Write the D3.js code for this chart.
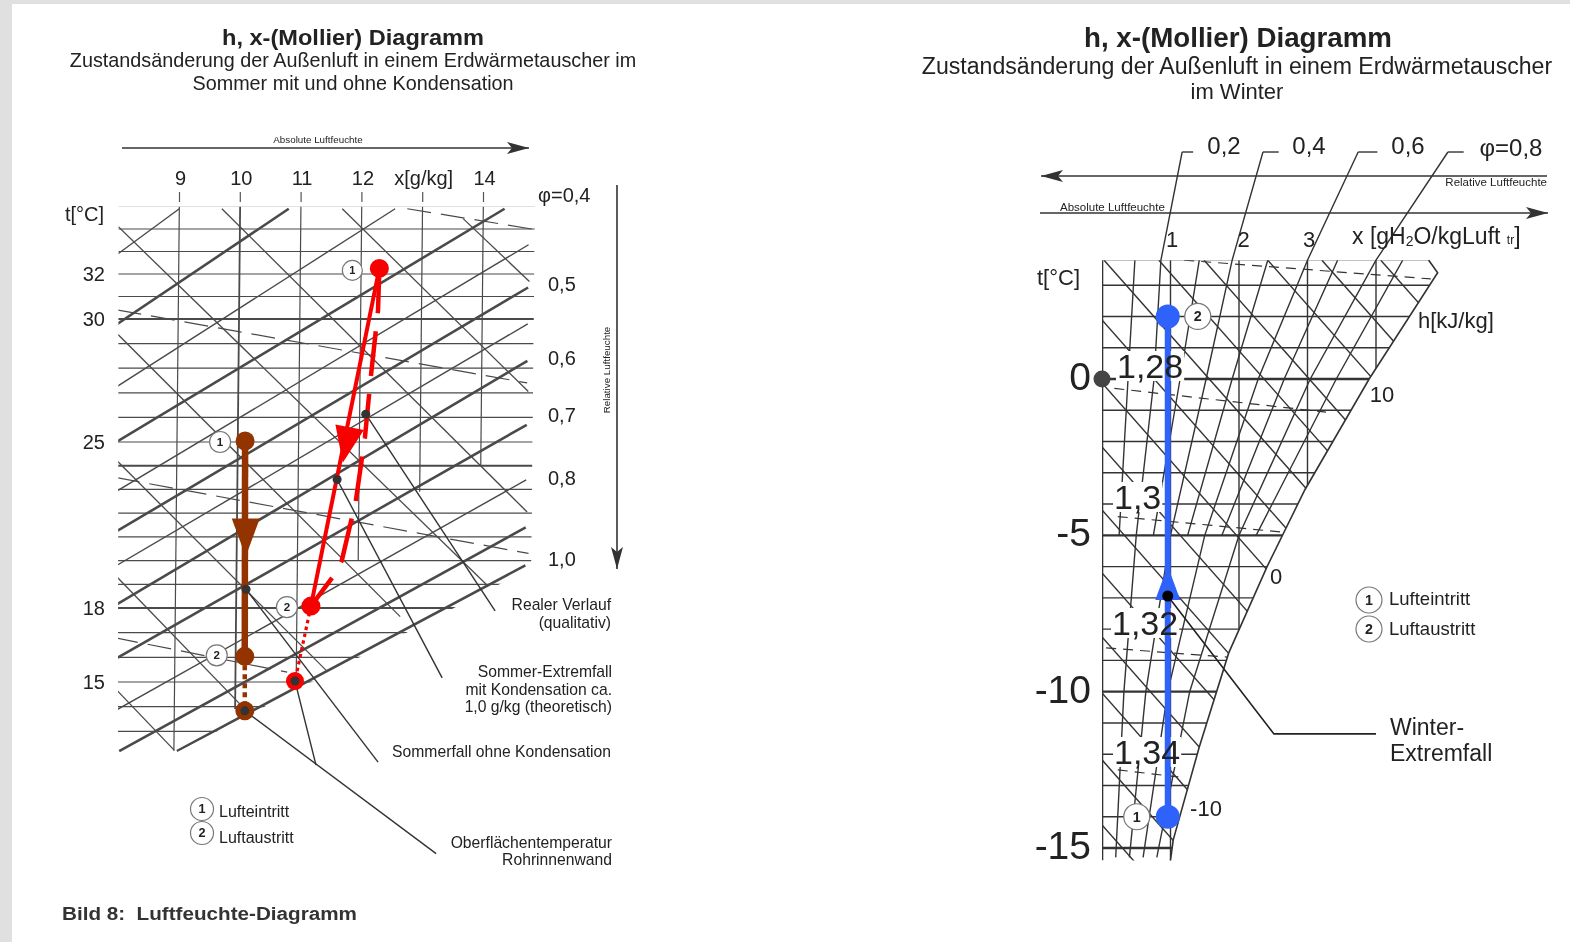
<!DOCTYPE html>
<html lang="de">
	<head>
		<meta charset="utf-8">
		<title>h,x-Diagramm</title>
		<script src="https://cdn.jsdelivr.net/npm/d3@7/dist/d3.min.js" type="text/javascript"></script>
		<style>
			html, body { margin: 0; padding: 0; background: #fff; }
			svg { display: block; filter: blur(0.55px); }
			text { font-family: "Liberation Sans", Arial, sans-serif; fill: #222; }
		</style>
	</head>
	<body>
		<script type="text/javascript">
			// ---- left diagram (Sommer), every point is [x g/kg, t degC]
			var sommerTemps = [35,34,33,32,31,30,29,28,27,26,25,24,23,22,21,20,19,18,17,16,15,14,13];
			var sommerTempsStrong = [30,24,18];
			var sommerX = [9,10,11,12,13,14];
			var sommerXEnd = [12.2,13.9,15.2,20,22.9,24];
			var sommerTempTicks = [32,30,25,18,15];
			var sommerXTicks = [9,10,11,12,13,14];
			var sommerPhiStrong = [
				[[8,29.8],[10.8,34.9]],
				[[8,25],[14.35,34.9]],
				[[8,21.2],[14.75,31.4]],
				[[8,18.1],[14.75,28.3]],
				[[8,15.9],[14.75,25.7]],
				[[8.1,12.2],[14.75,21.4]],
				[[9.05,12.2],[14.75,19.8]]
			];
			var sommerPhiThin = [
				[[8,32.9],[9,34.9]],
				[[8,27.25],[12.55,34.9]],
				[[8,22.9],[14.75,33.3]],
				[[8,19.75],[14.75,29.8]],
				[[8,13.8],[14.75,23.4]]
			];
			var sommerEnthalpy = [
				[[13.67,34.46],[14.77,31.67]],
				[[11.68,34.9],[14.77,27.05]],
				[[9.7,34.9],[14.77,22.05]],
				[[8,34.1],[14.13,18.95]],
				[[8,29.4],[12.7,17.65]],
				[[8,24.25],[11.5,15.45]],
				[[8,19.4],[10.2,13.8]],
				[[8,14.8],[9,12.25]]
			];
			var sommerDensity = [
				[[12.75,34.9],[14.8,34]],
				[[8,30.4],[14.75,27.4]],
				[[8,23.5],[14.8,20.3]],
				[[8,16.8],[10.85,15.4]]
			];
			var sommerPhiLabels = ["φ=0,4","0,5","0,6","0,7","0,8","1,0"];
			var sommerPhiLabelY = [195,284,358,415,478,559];

			var redEin = [12.30,32.25];
			var redAus = [11.23,18.08];
			var redExtrem = [10.98,15.04];
			var redReal = [[12.30,32.25],[12.285,30.38],[12.18,27.71],[12.09,25.17],[11.95,22.5],[11.73,20],[11.59,19.33],[11.23,18.08]];
			var redArrowTip = [11.73,24.13];
			var brownEin = [10.12,25.04];
			var brownAus = [10.15,16.04];
			var brownExtrem = [10.16,13.83];
			var brownArrowTip = [10.15,20.17];
			var sommerDots = [[12.10,26.13],[11.64,23.42],[10.16,18.79],[10.98,15.04],[10.16,13.83]];
			var sommerLeaders = [
				[[12.10,26.13],[14.26,17.88]],
				[[11.64,23.42],[13.40,15.17]],
				[[10.16,18.79],[12.36,11.75]],
				[[10.98,15.04],[11.34,11.63]],
				[[10.16,13.83],[13.33,8.04]]
			];
			var sommerClip = [[8,35],[14.85,35],[14.85,19.7],[9.05,12.15],[8.08,12.15]];

			// ---- right diagram (Winter)
			var winterTemps = [3.8,3,2,1,0,-1,-2,-3,-4,-5,-6,-7,-8,-9,-10,-11,-12,-13,-14,-15];
			var winterTempsStrong = [0,-5,-10,-15];
			var winterX = [0,1,2,3,4];
			var winterTempTicks = [0,-5,-10,-15];
			var winterXTicks = [1,2,3];
			var winterSat = [[4.77,3.8],[4.9,3.4],[3.9,0],[2.96,-3.55],[2.41,-6],[1.85,-8.76],[1.42,-11.77],[1.04,-14.74],[1.0,-15.4]];
			var winterClip = [[0,3.8]].concat(winterSat).concat([[0,-15.4]]);
			var winterPhiMain = [
				[[1.17,7.26],[0.86,3.8],[0.76,0],[0.5,-5],[0.32,-10],[0.2,-15.3]],
				[[2.35,7.26],[1.9,3.8],[1.52,0],[1.0,-5],[0.64,-10],[0.4,-15.3]],
				[[3.74,7.26],[3.0,3.8],[2.28,0],[1.5,-5],[0.96,-10],[0.6,-15.3]],
				[[5.05,7.26],[4.0,3.8],[3.04,0],[2.0,-5],[1.28,-10],[0.8,-15.3]]
			];
			var winterPhiOdd = [
				[[0.48,3.8],[0.38,0],[0.25,-5]],
				[[1.42,3.8],[1.14,0],[0.75,-5]],
				[[2.42,3.8],[1.9,0],[1.25,-5]],
				[[3.44,3.8],[2.66,0],[1.75,-5]],
				[[4.39,3.8],[3.42,0],[2.25,-5]]
			];
			var winterPhiTopEnd = [1.33,2.58,4.02,5.28];
			var winterPhiLabels = ["0,2","0,4","0,6","φ=0,8"];
			var winterPhiLabelX = [1224,1309,1408,1511];
			var winterEnthalpy = [
				[[0.03,3.8],[8.03,-16]],[[0.83,3.8],[8.83,-16]],[[1.49,3.8],[9.49,-16]],[[2.42,3.8],[10.42,-16]],
				[[3.21,3.8],[11.21,-16]],[[4.07,3.8],[12.07,-16]],[[4.77,3.8],[12.77,-16]],
				[[0,1.89],[5,-10.51]],[[0,-0.13],[5,-12.53]],[[0,-2.17],[5,-14.57]],[[0,-4.19],[5,-16.59]],
				[[0,-6.2],[5,-18.6]],[[0,-8.25],[5,-20.65]],[[0,-10.04],[5,-22.44]],[[0,-12.18],[5,-24.58]],[[0,-14.26],[5,-26.66]]
			];
			var winterDensity = [
				[[1.2,3.8],[4.8,3.2]],
				[[0.18,-0.3],[3.27,-1.06]],
				[[0.23,-4.4],[2.66,-4.9]],
				[[0.06,-8.6],[1.85,-8.9]],
				[[0.23,-12.5],[1.2,-12.75]]
			];
			var winterRho = ["1,28","1,3","1,32","1,34"];
			var winterRhoX = [1117,1114,1112,1114];
			var winterRhoY = [366,497,623,752];
			var blueEin = [0.96,-14];
			var blueAus = [0.96,2];
			var blueArrowTip = [0.96,-5.98];
			var blueDot = [0.96,-6.94];
			var greyDot = [0,0];
			var winterLeader = [[0.96,-6.94],[2.51,-11.35],[4.0,-11.35]];

			var svg = d3.select("body").append("svg").attr("width", 1570).attr("height", 942);
			svg.append("rect").attr("width", 1570).attr("height", 942).attr("fill", "#fff");
			svg.append("rect").attr("width", 1570).attr("height", 4).attr("fill", "#e0e0e0");
			svg.append("rect").attr("width", 12).attr("height", 942).attr("fill", "#e0e0e0");

			function label(str, x, y, size, anchor, weight) {
				return svg.append("text").attr("x", x).attr("y", y)
					.attr("font-size", size)
					.attr("text-anchor", anchor || "start")
					.attr("font-weight", weight || "normal")
					.attr("dominant-baseline", "central")
					.text(str);
			}
			function numCircle(cx, cy, r, str) {
				svg.append("circle").attr("cx", cx).attr("cy", cy).attr("r", r)
					.attr("fill", "#fff").attr("stroke", "#777").attr("stroke-width", 1.2);
				label(str, cx, cy, r * 1.1, "middle", "bold");
			}
			function arrowLine(x1, y1, x2, y2) {
				var a = Math.atan2(y2 - y1, x2 - x1);
				svg.append("line").attr("x1", x1).attr("y1", y1).attr("x2", x2).attr("y2", y2)
					.attr("stroke", "#333").attr("stroke-width", 1.6);
				svg.append("path")
					.attr("d", "M0,0L-22,-6L-17,0L-22,6Z")
					.attr("transform", "translate(" + x2 + "," + y2 + ") rotate(" + a * 180 / Math.PI + ")")
					.attr("fill", "#333");
			}

			// titles
			label("h, x-(Mollier) Diagramm", 353, 37, 22.5, "middle", "bold").attr("textLength", 262).attr("lengthAdjust", "spacingAndGlyphs");
			label("Zustandsänderung der Außenluft in einem Erdwärmetauscher im", 353, 60, 19.8, "middle");
			label("Sommer mit und ohne Kondensation", 353, 83, 19.8, "middle");
			label("h, x-(Mollier) Diagramm", 1238, 38, 27, "middle", "bold").attr("textLength", 308).attr("lengthAdjust", "spacingAndGlyphs");
			label("Zustandsänderung der Außenluft in einem Erdwärmetauscher", 1237, 66, 23.1, "middle");
			label("im Winter", 1237, 91, 22, "middle");
			label("Bild 8:  Luftfeuchte-Diagramm", 62, 914, 18, "start", "bold")
				.attr("textLength", 295).attr("lengthAdjust", "spacingAndGlyphs")
				.style("white-space", "pre").style("fill", "#333");

			// ---- left diagram
			var xL = d3.scaleLinear().domain([9, 14]).range([179, 483]);
			var tL = d3.scaleLinear().domain([32, 30, 25, 18, 15]).range([274, 319, 442, 608, 682]);
			var skewL = d3.scaleLinear().domain([240, 740]).range([0, -5]);
			var lineL = d3.line()
				.x(function (d) { return xL(d[0]) + skewL(tL(d[1])); })
				.y(function (d) { return tL(d[1]); });

			svg.append("clipPath").attr("id", "clipL").append("path").attr("d", lineL(sommerClip) + "Z");
			var gridL = svg.append("g").attr("clip-path", "url(#clipL)").attr("fill", "none").attr("stroke", "#4a4a4a");

			gridL.selectAll(".temp").data(sommerTemps).enter().append("path").attr("class", "temp")
				.attr("d", function (d) { return lineL([[8, d], [14.85, d]]); })
				.attr("stroke-width", function (d) { return sommerTempsStrong.indexOf(d) >= 0 ? 2 : 1.2; })
				.attr("stroke-opacity", function (d) { return d == 35 ? 0.35 : 1; });
			gridL.selectAll(".xl").data(sommerX).enter().append("path").attr("class", "xl")
				.attr("d", function (d, i) { return lineL([[d, 35], [d, sommerXEnd[i]]]); })
				.attr("stroke-width", function (d) { return d == 10 ? 1.8 : 1.2; });
			gridL.selectAll(".thin").data(sommerPhiThin).enter().append("path").attr("class", "thin")
				.attr("d", lineL).attr("stroke-width", 1.4);
			gridL.selectAll(".strong").data(sommerPhiStrong).enter().append("path").attr("class", "strong")
				.attr("d", lineL).attr("stroke-width", 2.6);
			gridL.selectAll(".ent").data(sommerEnthalpy).enter().append("path").attr("class", "ent")
				.attr("d", lineL).attr("stroke-width", 1.3);
			gridL.selectAll(".den").data(sommerDensity).enter().append("path").attr("class", "den")
				.attr("d", lineL).attr("stroke-width", 1.2).attr("stroke-dasharray", "24 10");

			var axisTopL = svg.append("g").attr("transform", "translate(0,202)")
				.call(d3.axisTop(xL).tickValues(sommerXTicks).tickSize(10).tickPadding(7)
					.tickFormat(function (d) { return d == 13 ? "x[g/kg]" : d; }));
			axisTopL.select(".domain").remove();
			axisTopL.selectAll("text").attr("font-size", 20).attr("dx", 1);
			axisTopL.selectAll("line").attr("stroke", "#555").attr("stroke-width", 1.2);

			var tickL = svg.append("g").attr("transform", "translate(105,0)")
				.call(d3.axisLeft(tL).tickValues(sommerTempTicks).tickSize(0).tickPadding(0)
					.tickFormat(function (d) { return d; }));
			tickL.select(".domain").remove();
			tickL.selectAll("text").attr("font-size", 20);

			label("t[°C]", 65, 214, 20);
			sommerPhiLabels.forEach(function (s, i) {
				label(s, i == 0 ? 538 : 548, sommerPhiLabelY[i], 20);
			});
			arrowLine(122, 148, 529, 148);
			label("Absolute Luftfeuchte", 318, 139, 9.8, "middle");
			arrowLine(617, 185, 617, 569);
			label("Relative Luftfeuchte", 0, 0, 9.8, "middle").attr("transform", "translate(606,370) rotate(-90)");

			// leader lines
			svg.selectAll(".leaderL").data(sommerLeaders).enter().append("path").attr("class", "leaderL")
				.attr("d", lineL).attr("fill", "none").attr("stroke", "#333").attr("stroke-width", 1.4);

			// states
			function drawState(from, to, color, width, dash) {
				svg.append("path").attr("d", lineL([from, to])).attr("fill", "none")
					.attr("stroke", color).attr("stroke-width", width).attr("stroke-dasharray", dash || null);
			}
			function tip(scaleLine, p, w, h, angle, color) {
				var c = scaleLine(p);
				svg.append("path")
					.attr("d", "M0,0L" + (-w / 2) + "," + (-h) + "L" + (w / 2) + "," + (-h) + "Z")
					.attr("transform", "translate(" + c[0] + "," + c[1] + ") rotate(" + angle + ")")
					.attr("fill", color);
			}
			function ptL(p) { return [xL(p[0]) + skewL(tL(p[1])), tL(p[1])]; }

			var red = "#f60000", brown = "#933300";
			drawState(redAus, redExtrem, red, 3.2, "3.5 3.5");
			drawState(brownAus, brownExtrem, brown, 4.5, "5 4");
			drawState(redEin, redAus, red, 4);
			svg.append("path").attr("d", lineL(redReal)).attr("fill", "none")
				.attr("stroke", red).attr("stroke-width", 4.5).attr("stroke-dasharray", "45 18");
			drawState(brownEin, brownAus, brown, 6.5);
			tip(ptL, redArrowTip, 29, 36, 11, red);
			tip(ptL, brownArrowTip, 28, 38, 0, brown);

			svg.selectAll(".stateL").data([[redEin, red, 9.5], [redAus, red, 9.5], [redExtrem, red, 9], [brownEin, brown, 9.5], [brownAus, brown, 9.5], [brownExtrem, brown, 9.5]])
				.enter().append("circle").attr("class", "stateL")
				.attr("cx", function (d) { return ptL(d[0])[0]; })
				.attr("cy", function (d) { return ptL(d[0])[1]; })
				.attr("r", function (d) { return d[2]; })
				.attr("fill", function (d) { return d[1]; });
			svg.selectAll(".dotL").data(sommerDots).enter().append("circle").attr("class", "dotL")
				.attr("cx", function (d) { return ptL(d)[0]; })
				.attr("cy", function (d) { return ptL(d)[1]; })
				.attr("r", 4.5).attr("fill", "#333");

			numCircle(ptL(redEin)[0] - 27, ptL(redEin)[1] + 2, 10, "1");
			numCircle(ptL(brownEin)[0] - 25, ptL(brownEin)[1] + 1, 10.5, "1");
			numCircle(ptL(redAus)[0] - 24, ptL(redAus)[1] + 1, 10.5, "2");
			numCircle(ptL(brownAus)[0] - 28, ptL(brownAus)[1] - 1, 10.5, "2");

			numCircle(202, 809, 11.5, "1");
			numCircle(202, 833, 11.5, "2");
			label("Lufteintritt", 219, 811, 16);
			label("Luftaustritt", 219, 837, 16);

			label("Realer Verlauf", 611, 604, 15.7, "end");
			label("(qualitativ)", 611, 622, 15.7, "end");
			label("Sommer-Extremfall", 612, 671, 15.7, "end");
			label("mit Kondensation ca.", 612, 689, 15.7, "end");
			label("1,0 g/kg (theoretisch)", 612, 706, 15.7, "end");
			label("Sommerfall ohne Kondensation", 611, 751, 15.7, "end");
			label("Oberflächentemperatur", 612, 842, 15.7, "end");
			label("Rohrinnenwand", 612, 859, 15.7, "end");

			// ---- right diagram
			var xR = d3.scaleLinear().domain([0, 4]).range([1102, 1376]);
			var tR = d3.scaleLinear().domain([0, -15]).range([379, 848]);
			var lineR = d3.line().x(function (d) { return xR(d[0]); }).y(function (d) { return tR(d[1]); });
			function ptR(p) { return [xR(p[0]), tR(p[1])]; }

			svg.append("clipPath").attr("id", "clipR").append("path").attr("d", lineR(winterClip) + "Z");
			var gridR = svg.append("g").attr("clip-path", "url(#clipR)").attr("fill", "none").attr("stroke", "#333");

			gridR.selectAll(".temp").data(winterTemps).enter().append("path").attr("class", "temp")
				.attr("d", function (d) { return lineR([[0, d], [5, d]]); })
				.attr("stroke-width", function (d) { return winterTempsStrong.indexOf(d) >= 0 ? 2.4 : 1.4; })
				.attr("stroke-opacity", function (d) { return d == 3.8 ? 0.4 : 1; });
			gridR.selectAll(".xl").data(winterX).enter().append("path").attr("class", "xl")
				.attr("d", function (d) { return lineR([[d, 3.8], [d, -15.4]]); })
				.attr("stroke-width", function (d) { return d == 0 ? 2.6 : 1.4; });
			gridR.selectAll(".odd").data(winterPhiOdd).enter().append("path").attr("class", "odd")
				.attr("d", lineR).attr("stroke-width", 1.4);
			gridR.selectAll(".ent").data(winterEnthalpy).enter().append("path").attr("class", "ent")
				.attr("d", lineR).attr("stroke-width", 1.4);
			gridR.selectAll(".den").data(winterDensity).enter().append("path").attr("class", "den")
				.attr("d", lineR).attr("stroke-width", 1.2).attr("stroke-dasharray", "10 7");

			svg.append("path").attr("d", lineR(winterSat)).attr("fill", "none").attr("stroke", "#333").attr("stroke-width", 1.6);
			svg.selectAll(".phiR").data(winterPhiMain).enter().append("path").attr("class", "phiR")
				.attr("d", lineR).attr("fill", "none").attr("stroke", "#333").attr("stroke-width", 1.4);
			svg.selectAll(".phiTop").data(winterPhiMain).enter().append("path").attr("class", "phiTop")
				.attr("d", function (d, i) { return lineR([d[0], [winterPhiTopEnd[i], d[0][1]]]); })
				.attr("fill", "none").attr("stroke", "#333").attr("stroke-width", 1.4);

			winterPhiLabels.forEach(function (s, i) { label(s, winterPhiLabelX[i], i == 3 ? 147 : 145, 24, "middle"); });

			// density values sit on a white patch, the text goes over the blue line later
			var rhoTexts = winterRho.map(function (s, i) {
				var t = label(s, winterRhoX[i], winterRhoY[i], 34);
				var b = t.node().getBBox();
				svg.insert("rect", function () { return t.node(); })
					.attr("x", b.x - 1).attr("y", b.y + 4).attr("width", b.width + 2).attr("height", b.height - 8)
					.attr("fill", "#fff");
				return t;
			});

			var axisTopR = svg.append("g").attr("transform", "translate(0,247)")
				.call(d3.axisTop(xR).tickValues(winterXTicks).tickSize(0).tickPadding(0)
					.tickFormat(function (d) { return String(d); }));
			axisTopR.select(".domain").remove();
			axisTopR.selectAll("text").attr("font-size", 22)
				.attr("dx", function (d) { return d == 2 ? 4 : 1; });

			var tickR = svg.append("g").attr("transform", "translate(1091,-2)")
				.call(d3.axisLeft(tR).tickValues(winterTempTicks).tickSize(0).tickPadding(0)
					.tickFormat(function (d) { return String(d); }));
			tickR.select(".domain").remove();
			tickR.selectAll("text").attr("font-size", 39);

			var xUnit = label("x [gH", 1352, 236, 23);
			xUnit.append("tspan").attr("font-size", 14).attr("dy", 5).text("2");
			xUnit.append("tspan").attr("dy", -5).text("O/kgLuft ");
			xUnit.append("tspan").attr("font-size", 12).attr("dy", 4).text("tr");
			xUnit.append("tspan").attr("dy", -4).text("]");

			label("t[°C]", 1037, 277, 22);
			label("h[kJ/kg]", 1418, 320, 22);
			label("10", 1382, 394, 22, "middle");
			label("0", 1276, 576, 22, "middle");
			label("-10", 1206, 808, 22, "middle");

			arrowLine(1547, 176, 1041, 176);
			arrowLine(1040, 213, 1548, 213);
			label("Relative Luftfeuchte", 1547, 182, 11.5, "end");
			label("Absolute Luftfeuchte", 1060, 207, 11.5);

			svg.append("path").attr("d", lineR(winterLeader)).attr("fill", "none").attr("stroke", "#222").attr("stroke-width", 1.6);
			label("Winter-", 1390, 727, 23);
			label("Extremfall", 1390, 753, 23);

			var blue = "#2e62fb";
			svg.append("path").attr("d", lineR([blueEin, blueAus])).attr("stroke", blue).attr("stroke-width", 6).attr("fill", "none");
			tip(ptR, blueArrowTip, 25, 34, 180, blue);
			svg.selectAll(".stateR").data([blueEin, blueAus]).enter().append("circle").attr("class", "stateR")
				.attr("cx", function (d) { return ptR(d)[0]; })
				.attr("cy", function (d) { return ptR(d)[1]; })
				.attr("r", 12).attr("fill", blue);
			svg.append("circle").attr("cx", ptR(blueDot)[0]).attr("cy", ptR(blueDot)[1]).attr("r", 5.5).attr("fill", "#000");
			svg.append("circle").attr("cx", ptR(greyDot)[0]).attr("cy", ptR(greyDot)[1]).attr("r", 8.5).attr("fill", "#444");
			rhoTexts.forEach(function (t) { t.raise(); });

			numCircle(ptR(blueAus)[0] + 30, ptR(blueAus)[1], 13, "2");
			numCircle(ptR(blueEin)[0] - 31, ptR(blueEin)[1], 13, "1");
			numCircle(1369, 600, 13, "1");
			numCircle(1369, 629, 13, "2");
			label("Lufteintritt", 1389, 598, 18.5);
			label("Luftaustritt", 1389, 628, 18.5);
		</script>
	</body>
</html>
